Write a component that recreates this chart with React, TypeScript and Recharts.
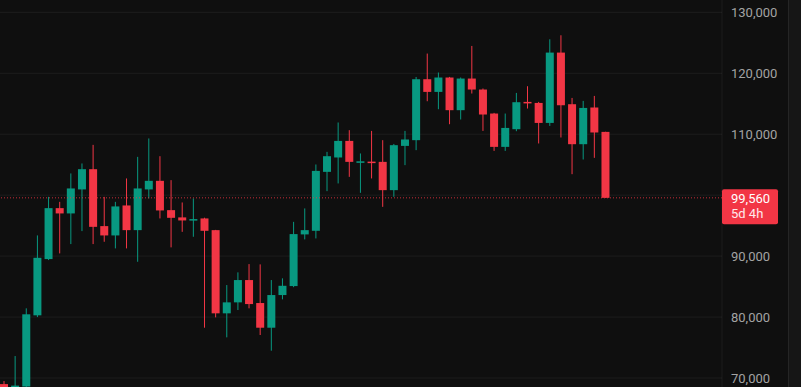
import { ComposedChart, Bar, XAxis, YAxis, CartesianGrid, ReferenceLine } from 'recharts'

const opens = [
  69000, 68300, 68600, 80280, 89510, 97870, 97000, 100940, 104260, 94920,
  93390, 98310, 94260, 100940, 102350, 97540, 96350, 95900, 96180, 94260,
  80610, 82410, 86070, 82300, 78250, 83610, 85080, 93560, 94150, 103820,
  106180, 108900, 105400, 105500, 105460, 100820, 108080, 109020, 119020, 116940,
  119300, 113940, 119130, 117330, 113390, 107920, 110820, 115300, 115130, 111850,
  123390, 114920, 108360, 114380, 110380,
]
const highs = [
  69500, 73600, 81430, 93390, 99720, 98900, 103560, 105200, 108250, 99720,
  98900, 102740, 106280, 109300, 106390, 102460, 98800, 99460, 96300, 94300,
  85250, 87330, 88690, 88640, 86070, 86350, 95620, 97820, 105030, 107100,
  111920, 110660, 106840, 110540, 109020, 108400, 110540, 119390, 123230, 120120,
  119400, 119300, 124480, 117500, 113500, 113390, 116770, 117870, 115300, 125570,
  126230, 115950, 115460, 116280, 110400,
]
const lows = [
  67000, 68000, 68400, 80000, 89350, 90440, 91970, 94100, 91970, 92350,
  91260, 91260, 89070, 99460, 96180, 91430, 93980, 93170, 78250, 79950,
  76670, 81150, 81430, 77050, 74480, 82900, 84900, 92740, 92900, 100660,
  101920, 103000, 100380, 102740, 98080, 99720, 104920, 107380, 115410, 114100,
  111640, 112410, 116670, 110540, 107260, 107260, 110490, 114210, 108480, 111360,
  109460, 103440, 105850, 106120, 99560,
]
const closes = [
  67800, 68750, 80450, 89720, 97870, 97000, 101100, 104260, 94800, 93390,
  98150, 94260, 101100, 102350, 97490, 96280, 95850, 96070, 94150, 80610,
  82410, 86070, 82130, 78250, 83610, 85130, 93610, 94260, 103980, 106390,
  108900, 105460, 105550, 105400, 100820, 108200, 109130, 119020, 116940, 119300,
  113940, 119130, 117330, 113230, 107920, 111030, 115250, 115150, 111850, 123390,
  114750, 108360, 114310, 110280, 99560,
]
const emptySlots = 10
const gridIndexes = [2, 11, 19, 28, 37, 45, 54, 63]
// 100,000 sits under the last-price tag, so it only gets a grid line
const priceTicks = [70000, 80000, 90000, 110000, 120000, 130000]
const gridPrices = [70000, 80000, 90000, 100000, 110000, 120000, 130000]
const lastPrice = 99560
const countdown = '5d 4h'

const UP = '#089981'
const DOWN = '#f23645'

const rows = [
  ...opens.map((o, i) => ({
    i,
    open: o,
    high: highs[i],
    low: lows[i],
    close: closes[i],
    range: [lows[i], highs[i]],
  })),
  ...Array.from({ length: emptySlots }, (_, k) => ({ i: opens.length + k, range: null })),
]

function Candle(props: any) {
  const { x, y, width, height, payload } = props
  if (!payload || payload.open == null) return null
  const { open, close, high, low } = payload
  const top = Math.min(y, y + height)
  const h = Math.abs(height)
  const ppu = h / (high - low)
  const color = close >= open ? UP : DOWN
  const bodyTop = top + (high - Math.max(open, close)) * ppu
  const bodyH = Math.max(Math.abs(open - close) * ppu, 1.5)
  const cx = x + width / 2
  return (
    <g>
      <line x1={cx} x2={cx} y1={top} y2={top + h} stroke={color} strokeWidth={1} />
      <rect x={x} y={bodyTop} width={width} height={bodyH} fill={color} />
    </g>
  )
}

function PriceTag(props: any) {
  const vb = props.viewBox || {}
  const left = vb.x + vb.width
  const y = vb.y
  return (
    <g>
      <rect x={left} y={y - 8.5} width={56} height={35} rx={2} fill={DOWN} />
      <text x={left + 9} y={y + 1} dominantBaseline="central" fill="#ffffff" fontSize={13} fontFamily="Roboto">
        {lastPrice.toLocaleString('en-US')}
      </text>
      <text x={left + 9} y={y + 16} dominantBaseline="central" fill="#ffe9eb" fontSize={13} fontFamily="Roboto">
        {countdown}
      </text>
    </g>
  )
}

export default function App() {
  return (
    <div
      style={{
        position: 'absolute',
        left: 0,
        top: 0,
        width: 801,
        height: 387,
        overflow: 'hidden',
        background: '#0f0f0f',
      }}
    >
      <div style={{ position: 'absolute', left: -2, top: 0 }}>
        <ComposedChart width={803} height={387} data={rows} margin={{ top: 0, right: 0, bottom: 0, left: 0 }}>
          <CartesianGrid stroke="rgba(255,255,255,0.06)" horizontalValues={gridPrices} />
          <XAxis
            dataKey="i"
            type="category"
            ticks={gridIndexes}
            interval={0}
            height={0}
            tick={false}
            axisLine={false}
            tickLine={false}
          />
          <YAxis
            orientation="right"
            type="number"
            domain={[68523, 132018]}
            allowDataOverflow
            ticks={priceTicks}
            interval={0}
            tickFormatter={(v: number) => v.toLocaleString('en-US')}
            width={79}
            tickSize={0}
            tickMargin={9}
            tickLine={false}
            axisLine={false}
            tick={{ fill: '#a3a3a3', fontSize: 13, fontFamily: 'Roboto' }}
          />
          <Bar dataKey="range" barSize={8} shape={<Candle />} isAnimationActive={false} />
          <ReferenceLine
            y={lastPrice}
            stroke={DOWN}
            strokeOpacity={0.8}
            strokeDasharray="1 2"
            label={<PriceTag />}
          />
        </ComposedChart>
      </div>
      <div
        style={{
          position: 'absolute',
          left: 788,
          top: 0,
          width: 13,
          height: 387,
          background: '#161616',
          borderLeft: '1px solid #252525',
        }}
      />
    </div>
  )
}
